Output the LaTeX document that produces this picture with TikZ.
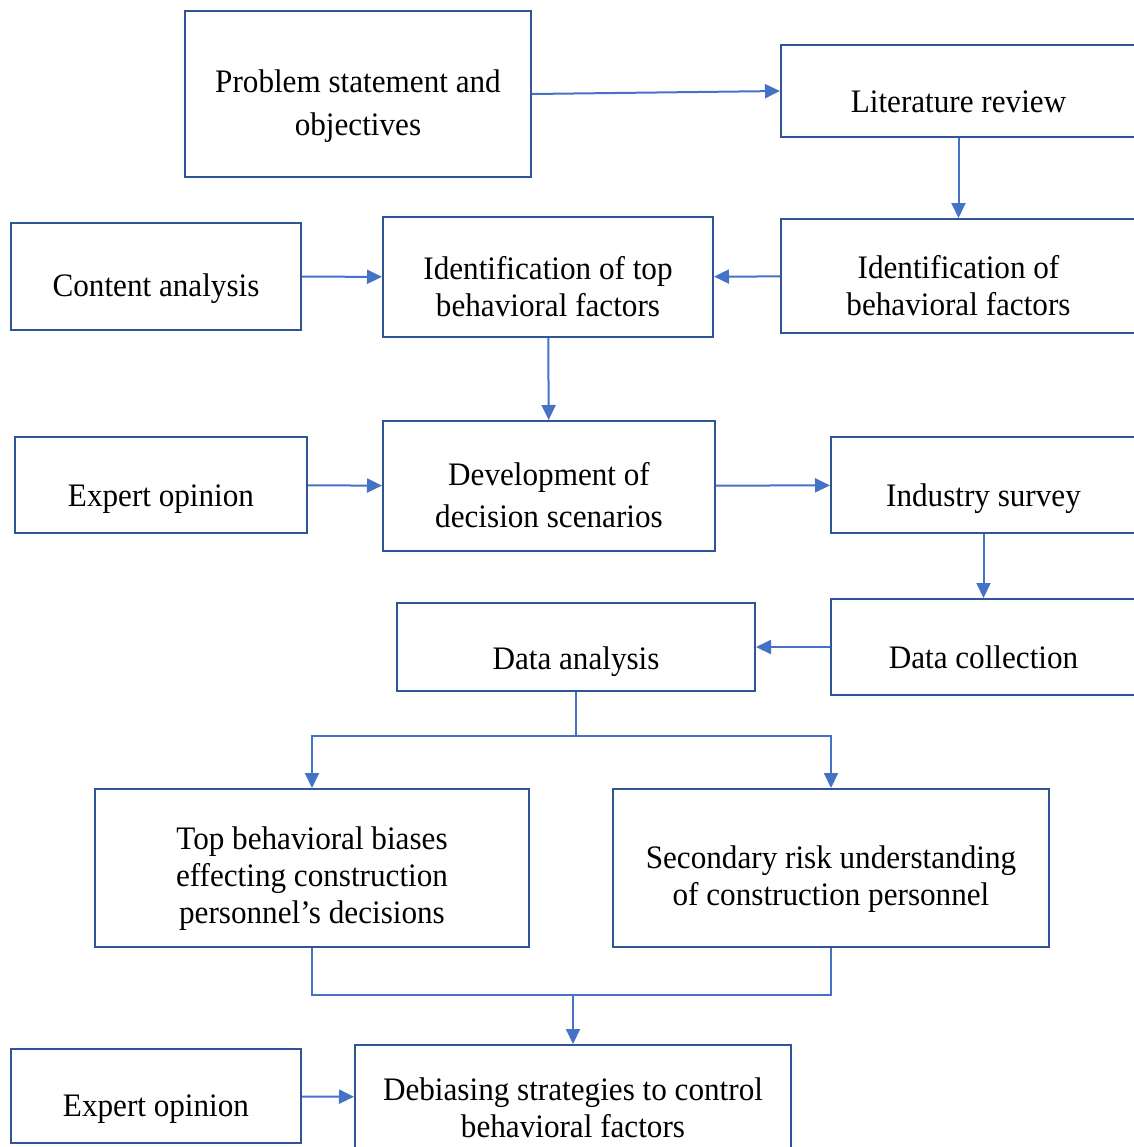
\documentclass[tikz,border=0pt]{standalone}
\usepackage{fontspec}
\setmainfont{Liberation Serif}[FakeStretch=0.95]
\usepackage{xcolor}
\usetikzlibrary{arrows.meta}
\definecolor{boxblue}{HTML}{2F5597}
\definecolor{lineblue}{HTML}{4472C4}
\newcommand{\gap}[1]{\rule{0pt}{#1}}

\begin{document}
\begin{tikzpicture}[
        x=0.5pt, y=-0.5pt,
        block/.style={rectangle, draw=boxblue, line width=1pt, align=center,
            font=\fontsize{16.4pt}{18.5pt}\selectfont},
        link/.style={draw=lineblue, line width=1pt},
        arrow/.style={link, -{Triangle[length=7.5pt,width=7pt]}}
    ]
        \useasboundingbox (0,0) rectangle (1134,1147);
        \clip (0,0) rectangle (1134,1147);

        % Nodes
        \node[block, minimum width=173pt, minimum height=83pt] (problem) at (358,94) {\gap{23pt}Problem statement and\\[3pt]objectives};
        \node[block, minimum width=177.5pt, minimum height=46pt] (literature) at (958.5,91) {\gap{22pt}Literature review};
        \node[block, minimum width=177.5pt, minimum height=57pt] (idfactors) at (958.5,276) {\gap{21pt}Identification of\\behavioral factors};
        \node[block, minimum width=165pt, minimum height=60pt] (idtop) at (548,277) {\gap{21pt}Identification of top\\behavioral factors};
        \node[block, minimum width=145pt, minimum height=53.5pt] (content) at (156,276.5) {\gap{24pt}Content analysis};

        \node[block, minimum width=146pt, minimum height=48pt] (expertA) at (161,485) {\gap{25pt}Expert opinion};
        \node[block, minimum width=166pt, minimum height=65pt] (develop) at (549,486) {\gap{21pt}Development of\\[2.5pt]decision scenarios};
        \node[block, minimum width=152.5pt, minimum height=48pt] (industry) at (983.5,485) {\gap{25pt}Industry survey};
        \node[block, minimum width=152.5pt, minimum height=48pt] (collection) at (983.5,647) {\gap{22pt}Data collection};
        \node[block, minimum width=179pt, minimum height=44pt] (analysis) at (576,647) {\gap{26pt}Data analysis};

        \node[block, minimum width=217pt, minimum height=79pt] (biases) at (312,868) {\gap{22pt}Top behavioral biases\\effecting construction\\personnel’s decisions};
        \node[block, minimum width=218pt, minimum height=79pt] (secondary) at (831,868) {\gap{22pt}Secondary risk understanding\\of construction personnel};

        \node[block, minimum width=145pt, minimum height=47pt] (expertB) at (156,1096) {\gap{24pt}Expert opinion};
        \node[block, minimum width=218pt, minimum height=52.5pt] (debias) at (573,1097.5) {\gap{22pt}Debiasing strategies to control\\behavioral factors};

        \coordinate (fork) at (576,736);
        \coordinate (join) at (573,995);

        % Arrows
        \draw[arrow] (problem.east) -- (literature.west);
        \draw[arrow] (literature) -- (idfactors);
        \draw[arrow] (idfactors) -- (idtop);
        \draw[arrow] (content) -- (idtop);
        \draw[arrow] (idtop) -- (develop);
        \draw[arrow] (expertA) -- (develop);
        \draw[arrow] (develop) -- (industry);
        \draw[arrow] (industry) -- (collection);
        \draw[arrow] (collection) -- (analysis);
        \draw[link] (analysis) -- (fork);
        \draw[arrow] (fork) -| (biases.north);
        \draw[arrow] (fork) -| (secondary.north);
        \draw[link] (biases.south) |- (join);
        \draw[link] (secondary.south) |- (join);
        \draw[arrow] (join) -- (debias);
        \draw[arrow] (expertB) -- (debias);
    \end{tikzpicture}
\end{document}
